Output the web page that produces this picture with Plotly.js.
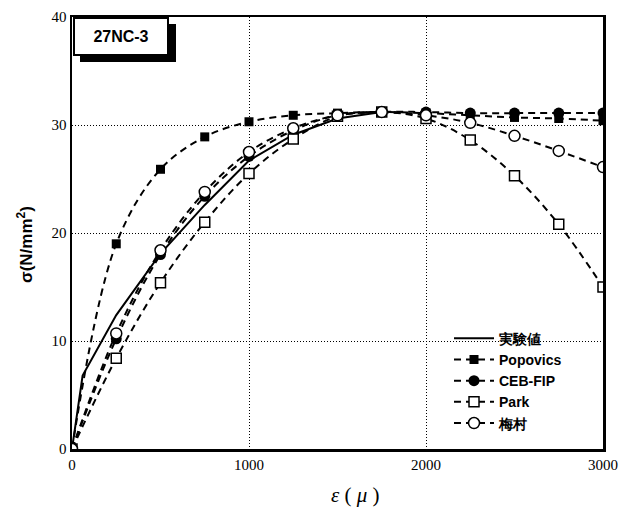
<!DOCTYPE html>
<html>
<head>
<meta charset="utf-8">
<script src="https://cdn.plot.ly/plotly-3.0.1.min.js"></script>
<style>html,body{margin:0;padding:0;background:#fff;}#chart{width:619px;height:515px;}</style>
</head>
<body>
<div id="chart"></div>
<script>
// strain values (μ) at model points
const strainModel = [0, 250, 500, 750, 1000, 1250, 1500, 1750, 2000, 2250, 2500, 2750, 3000];
// experimental curve
const strainExp = [0, 60, 250, 500, 750, 1000, 1250, 1500, 1750];
const stressExp = [0, 6.8, 12.4, 18.1, 22.6, 26.7, 29.1, 30.6, 31.2];
// model stresses (N/mm2)
const popovics = [0, 19.0, 25.9, 28.9, 30.3, 30.9, 31.1, 31.2, 31.1, 30.9, 30.7, 30.6, 30.4];
const cebfip   = [0, 10.2, 18.0, 23.4, 27.1, 29.5, 30.9, 31.2, 31.2, 31.1, 31.1, 31.1, 31.1];
const park     = [0, 8.4, 15.4, 21.0, 25.5, 28.7, 30.8, 31.2, 30.6, 28.6, 25.3, 20.8, 15.0];
const umemura  = [0, 10.7, 18.4, 23.8, 27.5, 29.7, 30.9, 31.2, 30.9, 30.2, 29.0, 27.6, 26.1];
const seriesNames = ['実験値', 'Popovics', 'CEB-FIP', 'Park', '梅村'];
const xTicks = [0, 1000, 2000, 3000];
const yTicks = [0, 10, 20, 30, 40];

const dashLine = {color: '#000', width: 2, dash: '7px,5px', shape: 'spline', smoothing: 1};
const traces = [
  {x: strainExp, y: stressExp, name: seriesNames[0], mode: 'lines',
   line: {color: '#000', width: 2}},
  {x: strainModel, y: popovics, name: seriesNames[1], mode: 'lines+markers',
   line: dashLine, marker: {symbol: 'square', size: 9, color: '#000'}},
  {x: strainModel, y: cebfip, name: seriesNames[2], mode: 'lines+markers',
   line: dashLine, marker: {symbol: 'circle', size: 11, color: '#000'}},
  {x: strainModel, y: park, name: seriesNames[3], mode: 'lines+markers',
   line: dashLine, marker: {symbol: 'square', size: 10, color: '#fff', line: {color: '#000', width: 1.5}}},
  {x: strainModel, y: umemura, name: seriesNames[4], mode: 'lines+markers',
   line: dashLine, marker: {symbol: 'circle', size: 11, color: '#fff', line: {color: '#000', width: 1.5}}}
];

const tickFont = {family: 'Liberation Serif, Times New Roman, serif', size: 15, color: '#000'};
const layout = {
  width: 619, height: 515,
  margin: {l: 72, r: 16, t: 17, b: 66},
  paper_bgcolor: '#fff', plot_bgcolor: '#fff',
  showlegend: true,
  legend: {x: 0.71, y: 0.024, xanchor: 'left', yanchor: 'bottom', bgcolor: 'rgba(0,0,0,0)',
           font: {family: 'Liberation Sans, Arial, sans-serif', size: 14, color: '#000', weight: 'bold'},
           tracegroupgap: 0, itemwidth: 40},
  xaxis: {range: [0, 3000], tickvals: xTicks, ticktext: xTicks.map(String), showgrid: true,
          gridcolor: '#000', griddash: '1px,2px', gridwidth: 1, zeroline: false,
          showline: true, mirror: true, linecolor: '#000', linewidth: 2.5, ticks: '',
          tickfont: tickFont},
  yaxis: {range: [0, 40], tickvals: yTicks, ticktext: yTicks.map(String), showgrid: true,
          gridcolor: '#000', griddash: '1px,2px', gridwidth: 1, zeroline: false,
          showline: true, mirror: true, linecolor: '#000', linewidth: 2.5, ticks: '',
          tickfont: tickFont},
  shapes: [
    // drop shadow of the label box
    {type: 'rect', xref: 'paper', yref: 'paper', x0: (80 - 72) / 531, x1: (176 - 72) / 531,
     y0: (449 - 62) / 432, y1: (449 - 24) / 432, fillcolor: '#000', line: {width: 0}, layer: 'below'}
  ],
  annotations: [
    // label box
    {xref: 'paper', yref: 'paper', x: (73 - 72) / 531, y: (449 - 17) / 432, xanchor: 'left', yanchor: 'top',
     text: '<b>27NC-3</b>', width: 92, height: 35, bgcolor: '#fff', bordercolor: '#000', borderwidth: 2,
     borderpad: 0, showarrow: false,
     font: {family: 'Liberation Sans, Arial, sans-serif', size: 16, color: '#000'}},
    {xref: 'paper', yref: 'paper', x: (355 - 72) / 531, y: -(495 - 449) / 432, xanchor: 'center', yanchor: 'middle',
     text: '<i>ε</i> ( <i>μ</i> )',
     showarrow: false, font: {family: 'Liberation Serif, Times New Roman, serif', size: 21, color: '#000'}},
    {xref: 'paper', yref: 'paper', x: -(72 - 25) / 531, y: (449 - 245) / 432, xanchor: 'center', yanchor: 'middle',
     text: '<b>σ(N/mm<sup>2</sup>)</b>',
     textangle: -90, showarrow: false, font: {family: 'Liberation Sans, Arial, sans-serif', size: 17, color: '#000'}}
  ]
};

Plotly.newPlot('chart', traces, layout, {displayModeBar: false, staticPlot: true});
</script>
</body>
</html>
